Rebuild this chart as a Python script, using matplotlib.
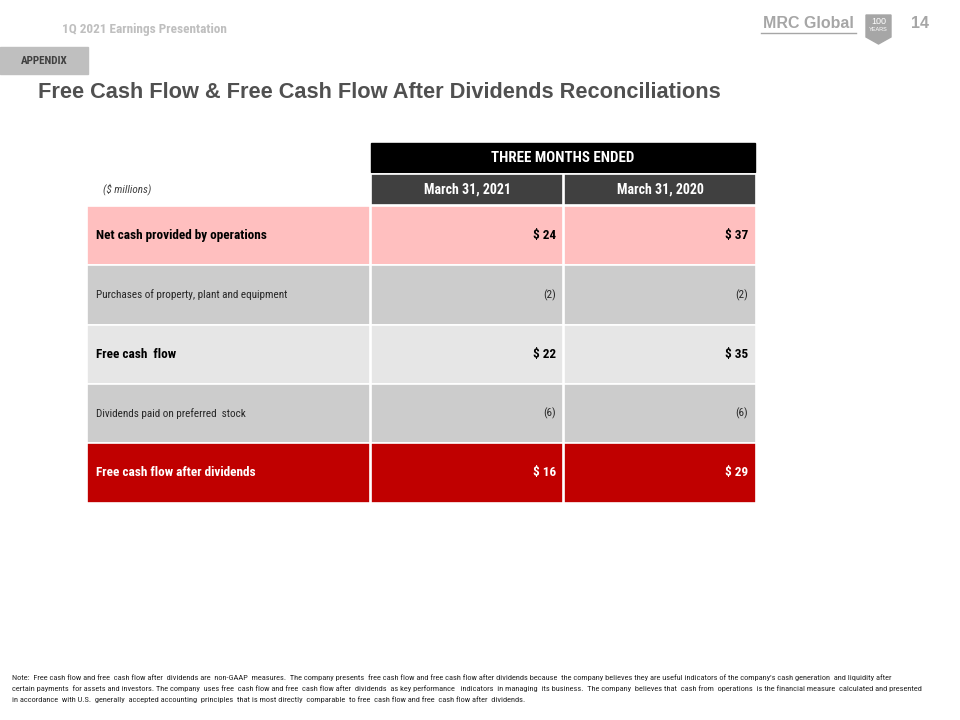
import matplotlib
matplotlib.use("Agg")
import matplotlib.pyplot as plt
from matplotlib.patches import Rectangle, Polygon
from matplotlib import font_manager

# le slide est en Arial Narrow : on prend la 1ere police étroite dispo
noms = {f.name for f in font_manager.fontManager.ttflist}
NARROW = "DejaVu Sans"
for n in ["Liberation Sans Narrow", "Roboto Condensed", "IBM Plex Sans Condensed",
          "Fira Sans Condensed"]:
    if n in noms:
        NARROW = n
        break
plt.rcParams["font.family"] = [NARROW, "DejaVu Sans"]
ARIAL = ["Liberation Sans", "DejaVu Sans"]

# données du tableau
periode = "THREE MONTHS ENDED"
colonnes = ["March 31, 2021", "March 31, 2020"]
unite = "($ millions)"
lignes = ["Net cash provided by operations",
          "Purchases of property, plant and equipment",
          "Free cash  flow",
          "Dividends paid on preferred  stock",
          "Free cash flow after dividends"]
val_2021 = ["$ 24", "(2)", "$ 22", "(6)", "$ 16"]
val_2020 = ["$ 37", "(2)", "$ 35", "(6)", "$ 29"]

note = ["Note:  Free cash flow and free  cash flow after  dividends are  non-GAAP  measures.  The company presents  free cash flow and free cash flow after dividends because  the company believes they are useful indicators of the company's cash generation  and liquidity after",
        "certain payments  for assets and investors. The company  uses free  cash flow and free  cash flow after  dividends  as key performance   indicators  in managing  its business.  The company  believes that  cash from  operations  is the financial measure  calculated and presented",
        "in accordance  with U.S.  generally  accepted accounting  principles  that is most directly  comparable  to free  cash flow and free  cash flow after  dividends."]

# style par ligne
fonds = ["#ffbfbf", "#cccccc", "#e6e6e6", "#cccccc", "#c00000"]
gras = [True, False, True, False, True]
couleur_txt = ["#000000", "#262626", "#000000", "#262626", "#ffffff"]

fig = plt.figure(figsize=(9.6, 7.2), dpi=100)
ax = fig.add_axes([0, 0, 1, 1])
ax.set_xlim(0, 960)
ax.set_ylim(720, 0)
ax.axis("off")

# entête de page
ax.text(62, 29, "1Q 2021 Earnings Presentation", color="#bfbfbf", fontsize=9.5,
        fontweight="bold", va="center")
ax.add_patch(Rectangle((0, 47), 88, 27, color="#bfbfbf"))
ax.text(44, 60.5, "APPENDIX", color="#404040", fontsize=8, fontweight="bold",
        ha="center", va="center")
ax.text(38, 93, "Free Cash Flow & Free Cash Flow After Dividends Reconciliations",
        color="#505050", fontsize=15.7, fontweight="bold", va="center", family=ARIAL)

# logo
ax.text(808, 24, "MRC Global", color="#a6a6a6", fontsize=11.5, fontweight="bold",
        ha="center", va="center", family=ARIAL)
ax.plot([761, 856], [32.5, 32.5], color="#a6a6a6", lw=1)
ax.add_patch(Polygon([[866, 15], [891, 15], [891, 37], [878.5, 44], [866, 37]],
                     closed=True, color="#a6a6a6"))
ax.text(878.5, 21.5, "100", color="white", fontsize=6.5, ha="center", va="center",
        family=ARIAL)
ax.text(878.5, 29.5, "YEARS", color="white", fontsize=4, ha="center", va="center",
        family=ARIAL)
ax.text(920, 23, "14", color="#a6a6a6", fontsize=11.5, fontweight="bold",
        ha="center", va="center", family=ARIAL)

# tableau
x_col = [87, 371, 564]
l_col = [283, 192, 192]
x_fin = 755
ax.add_patch(Rectangle((371, 143), x_fin - 371, 29, color="black"))
ax.text((371 + x_fin) / 2, 158, periode, color="white", fontsize=10.8,
        fontweight="bold", ha="center", va="center")
for j, c in enumerate(colonnes):
    x0 = x_col[j + 1]
    ax.add_patch(Rectangle((x0, 174), l_col[j + 1], 31, facecolor="#404040",
                           edgecolor="white", lw=1.2))
    ax.text(x0 + l_col[j + 1] / 2, 189.5, c, color="white", fontsize=10,
            fontweight="bold", ha="center", va="center")
ax.text(103, 189, unite, color="#404040", fontsize=8, style="italic", va="center")

h = 59.3
y0 = 206
for i, lab in enumerate(lignes):
    y = y0 + i * h
    for j in range(3):
        ax.add_patch(Rectangle((x_col[j], y), l_col[j], h, facecolor=fonds[i],
                               edgecolor="white", lw=1.2))
    w = "bold" if gras[i] else "normal"
    fs = 9.5 if gras[i] else 8
    ax.text(96, y + h / 2, lab, color=couleur_txt[i], fontsize=fs, fontweight=w, va="center")
    ax.text(556, y + h / 2, val_2021[i], color=couleur_txt[i], fontsize=fs,
            fontweight=w, ha="right", va="center")
    ax.text(748, y + h / 2, val_2020[i], color=couleur_txt[i], fontsize=fs,
            fontweight=w, ha="right", va="center")

# note de bas de page
for k, l in enumerate(note):
    ax.text(12, 678 + k * 10.7, l, color="#262626", fontsize=6.05, va="center")

fig.savefig("out.png", dpi=100)
